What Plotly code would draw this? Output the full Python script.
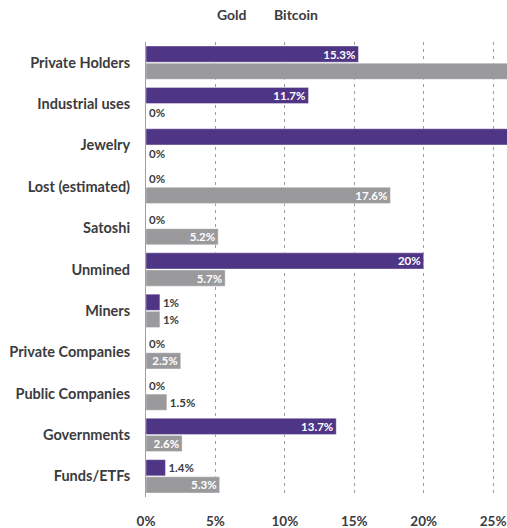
import plotly.graph_objects as go

categories = [
    "Private Holders", "Industrial uses", "Jewelry", "Lost (estimated)", "Satoshi",
    "Unmined", "Miners", "Private Companies", "Public Companies", "Governments", "Funds/ETFs",
]
gold = [15.3, 11.7, 36.9, 0, 0, 20, 1, 0, 0, 13.7, 1.4]
bitcoin = [58.6, 0, 0, 17.6, 5.2, 5.7, 1, 2.5, 1.5, 2.6, 5.3]
tick_vals = [0, 5, 10, 15, 20, 25]
tick_text = ["0%", "5%", "10%", "15%", "20%", "25%"]

FONT = "Lato"
DARK = "#3b3b40"
PURPLE = "#4f3585"
GREY = "#9a9a9d"
X_MAX = 26.0


def labels(vals):
    return [f"{v:g}%" for v in vals]


def positions(vals):
    # short bars get their label outside, longer ones inside at the end;
    # bars running past the axis end keep their label out of view
    out = []
    for v in vals:
        if v > X_MAX:
            out.append("none")
        elif v >= 2:
            out.append("inside")
        else:
            out.append("outside")
    return out


fig = go.Figure()
for name, vals, color in [("Gold", gold, PURPLE), ("Bitcoin", bitcoin, GREY)]:
    fig.add_trace(go.Bar(
        y=categories, x=vals, name=name, orientation="h",
        marker=dict(color=color, line=dict(color="rgba(255,255,255,0.6)", width=0.6)),
        text=labels(vals), textposition=positions(vals),
        insidetextanchor="end",
        insidetextfont=dict(family=FONT, size=11.5, color="white", weight="bold"),
        outsidetextfont=dict(family=FONT, size=11.5, color=DARK, weight="bold"),
        textangle=0, cliponaxis=True,
    ))

fig.update_layout(
    width=507, height=528,
    margin=dict(l=146, r=0, t=42, b=31),
    paper_bgcolor="white", plot_bgcolor="white",
    barmode="group", bargap=0.17, bargroupgap=0.06,
    showlegend=False,
    uniformtext=dict(minsize=11.5, mode="show"),
    font=dict(family=FONT, color=DARK),
    xaxis=dict(
        range=[0, X_MAX], tickvals=tick_vals, ticktext=tick_text,
        showgrid=True, gridcolor="#9c9c9c", gridwidth=1, griddash="3px,4px",
        zeroline=False, showline=False,
        ticks="outside", ticklen=12, tickcolor="rgba(0,0,0,0)",
        tickfont=dict(family=FONT, size=13.5, color=DARK, weight="bold"),
        fixedrange=True,
    ),
    yaxis=dict(
        autorange="reversed",
        showline=True, linecolor="#a0a0a0", linewidth=1,
        ticks="outside", ticklen=12, tickcolor="rgba(0,0,0,0)",
        tickfont=dict(family=FONT, size=14.5, color=DARK, weight="bold"),
        showgrid=False,
    ),
)

# legend entries as plain text above the plot
for txt, px in [("Gold", 232), ("Bitcoin", 296)]:
    fig.add_annotation(
        text=txt, x=(px - 146) / (507 - 146), y=1 + (42 - 15) / 455,
        xref="paper", yref="paper", showarrow=False, xanchor="center", yanchor="middle",
        font=dict(family=FONT, size=14, color=DARK, weight="bold"),
    )

fig.write_html("out.html")
